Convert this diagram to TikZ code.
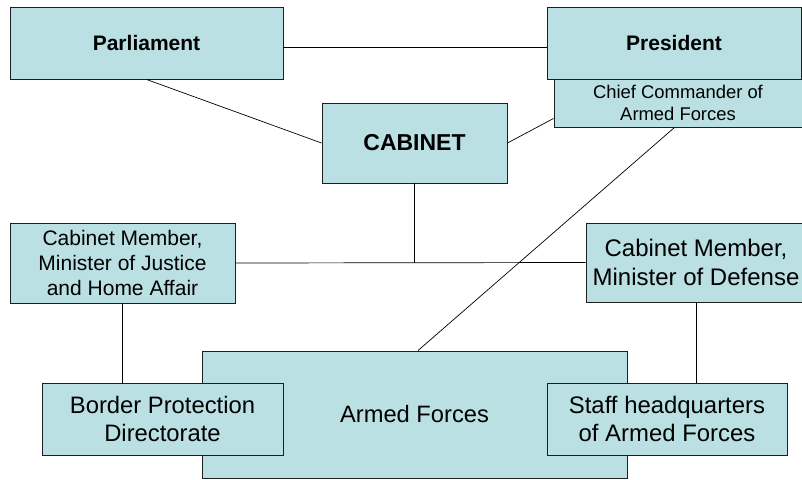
\documentclass[tikz,border=0pt]{standalone}
\usepackage{fontspec}
\setmainfont{Liberation Sans}
\definecolor{boxfill}{RGB}{186,224,227}
\definecolor{boxline}{RGB}{30,30,30}
\tikzset{
  orgbox/.style={draw=boxline, line width=0.9pt, fill=boxfill, rectangle, inner sep=0pt, align=center},
  conn/.style={draw=black, line width=0.7pt}
}
\newcommand{\fs}[1]{\fontsize{#1}{#1*1.2}\selectfont}
\begin{document}
\begin{tikzpicture}[x=1pt,y=-1pt]
\useasboundingbox (0,0) rectangle (802,479);
% connectors first
\node[orgbox, minimum width=273pt, minimum height=72pt, font=\bfseries\fontsize{21}{25}\selectfont] (parl) at (146.5,43) {Parliament};
\node[orgbox, minimum width=254pt, minimum height=72pt, font=\bfseries\fontsize{21}{25}\selectfont] (pres) at (674,43) {President};
\node[orgbox, minimum width=248pt, minimum height=48pt, font=\fontsize{18.4}{22}\selectfont] (chief) at (678,103) {Chief Commander of\\Armed Forces};
\node[orgbox, minimum width=185pt, minimum height=80pt, font=\bfseries\fontsize{23}{27}\selectfont] (cab) at (414.5,143) {CABINET};
\node[orgbox, minimum width=225pt, minimum height=80pt, font=\fontsize{21}{25}\selectfont] (just) at (122.5,263) {Cabinet Member,\\Minister of Justice\\and Home Affair};
\node[orgbox, minimum width=220pt, minimum height=79pt, font=\fontsize{24}{28.5}\selectfont] (def) at (696,262.5) {Cabinet Member,\\Minister of Defense};
\node[orgbox, minimum width=425pt, minimum height=127pt, font=\fontsize{23.7}{28}\selectfont] (armed) at (414.5,414.5) {Armed Forces};
\node[orgbox, minimum width=241pt, minimum height=72pt, font=\fontsize{23.8}{28}\selectfont] (border) at (162.5,419) {Border Protection\\Directorate};
\node[orgbox, minimum width=240pt, minimum height=72pt, font=\fontsize{23.9}{28}\selectfont] (staff) at (667,419) {Staff headquarters\\of Armed Forces};
\coordinate (junc) at (cab.south |- just.east);
\begin{scope}[on background layer/.try]
\end{scope}
\draw[conn] ([yshift=-4pt]parl.east) -- ([yshift=-4pt]pres.west);
\draw[conn] (parl.south) -- (cab.west);
\draw[conn] (cab.east) -- ([yshift=9pt]chief.south west);
\draw[conn] ([xshift=-3.5pt]chief.south) -- ([xshift=3.5pt]armed.north);
\draw[conn] (cab.south) -- (junc);
\draw[conn] (just.east) -- (def.west);
\draw[conn] (just.south) -- (just.south |- border.north);
\draw[conn] (def.south) -- (def.south |- staff.north);
\end{tikzpicture}
\end{document}
